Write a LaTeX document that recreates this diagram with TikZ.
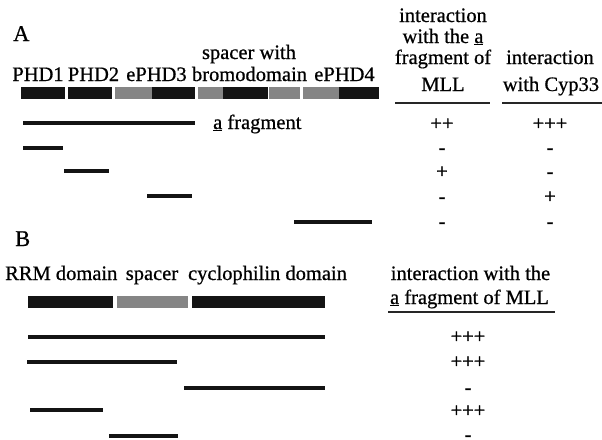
\documentclass[tikz,border=0pt]{standalone}
\usepackage{fontspec}
\setmainfont{Liberation Serif}[FakeBold=0.7]
\tikzset{
  txt/.style={inner sep=0pt, anchor=base, font=\fontsize{20.5}{24}\selectfont},
  txtw/.style={txt, anchor=base west},
  big/.style={inner sep=0pt, anchor=base west, font=\fontsize{22.5}{24}\selectfont},
  dk/.style={fill=black!92},
  gr/.style={fill=black!48},
  frag/.style={line width=4pt, draw=black!92, line cap=butt},
  uline/.style={line width=1.6pt, draw=black!85}
}
\begin{document}
\begin{tikzpicture}[x=1pt,y=-1pt]
\useasboundingbox (0,0) rectangle (602,439);
% ---------------- Panel A ----------------
\node[big] (labA) at (13,41) {A};
\node[txt] (sw) at (249,59) {spacer with};
\node[txt] (d1) at (38,81) {PHD1};
\node[txt] (d2) at (93.5,81) {PHD2};
\node[txt] (d3) at (156.5,81) {ePHD3};
\node[txt] (d4) at (249.5,81) {bromodomain};
\node[txt] (d5) at (344.5,81) {ePHD4};
% domain bar A
\fill[dk] (21,87) rectangle (65,99);
\fill[dk] (68,87) rectangle (112,99);
\fill[gr] (115,87) rectangle (152,99);
\fill[dk] (152,87) rectangle (195,99);
\fill[gr] (198,87) rectangle (223,99);
\fill[dk] (223,87) rectangle (268,99);
\fill[gr] (269,87) rectangle (300,99);
\fill[gr] (303,87) rectangle (339,99);
\fill[dk] (339,87) rectangle (379,99);
% fragments A
\draw[frag] (23,123) -- (195,123);
\node[txtw] (afr) at (213,129) {\underline{a} fragment};
\draw[frag] (23,148) -- (63,148);
\draw[frag] (64,171) -- (109,171);
\draw[frag] (147,196) -- (192,196);
\draw[frag] (294,222) -- (372,222);
% headers A
\node[txt] (h1a) at (443,22) {interaction};
\node[txt] (h1b) at (443,43) {with the \underline{a}};
\node[txt] (h1c) at (443,64) {fragment of};
\node[txt] (h1d) at (443,91) {MLL};
\node[txt] (h2a) at (550,64) {interaction};
\node[txt] (h2b) at (551,91) {with Cyp33};
\draw[uline] (395,103) -- (490,103);
\draw[uline] (502,103) -- (602,103);
% values A
\node[txt] (a11) at (442,130) {++};
\node[txt] (a12) at (442,154) {-};
\node[txt] (a13) at (442,178) {+};
\node[txt] (a14) at (442,203) {-};
\node[txt] (a15) at (442,228) {-};
\node[txt] (a21) at (550,130) {+++};
\node[txt] (a22) at (550,154) {-};
\node[txt] (a23) at (550,178) {-};
\node[txt] (a24) at (550,203) {+};
\node[txt] (a25) at (550,228) {-};
% ---------------- Panel B ----------------
\node[big] (labB) at (15,246) {B};
\node[txtw] (b1) at (5,280) {RRM domain};
\node[txt] (b2) at (152,280) {spacer};
\node[txt] (b3) at (267.5,280) {cyclophilin domain};
\fill[dk] (28,296) rectangle (113,308);
\fill[gr] (117,296) rectangle (188,308);
\fill[dk] (192,296) rectangle (325,308);
\draw[frag] (28,337) -- (325,337);
\draw[frag] (27,362) -- (177,362);
\draw[frag] (184,388) -- (325,388);
\draw[frag] (30,410) -- (103,410);
\draw[frag] (109,436) -- (178,436);
\node[txt] (hb1) at (470.5,280) {interaction with the};
\node[txt] (hb2) at (469.5,304) {\underline{a} fragment of MLL};
\draw[uline] (388,312) -- (555,312);
\node[txt] (v1) at (468,343) {+++};
\node[txt] (v2) at (468,368) {+++};
\node[txt] (v3) at (468,394) {-};
\node[txt] (v4) at (468,417) {+++};
\node[txt] (v5) at (468,441) {-};
\end{tikzpicture}
\end{document}
